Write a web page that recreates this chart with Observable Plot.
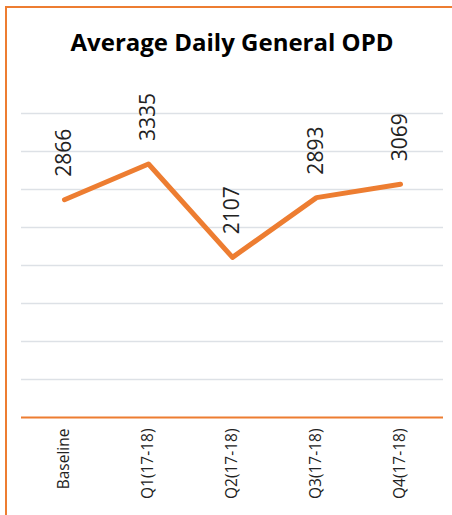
<!DOCTYPE html>
<html>
<head>
<meta charset="utf-8">
<script src="https://cdn.jsdelivr.net/npm/d3@7"></script>
<script src="https://cdn.jsdelivr.net/npm/@observablehq/plot@0.6"></script>
<style>
  html, body { margin: 0; padding: 0; background: #fff; }
  body { width: 452px; height: 515px; overflow: hidden; position: relative; }
  #frame { position: absolute; left: 5px; top: 6px; width: 520px; height: 600px;
           border-left: 2px solid #ED7D31; border-top: 2px solid #ED7D31; pointer-events: none; }
  #title { height: 40px; padding-top: 30px; padding-left: 12px; text-align: center;
           font-family: "Open Sans", sans-serif; font-weight: 700; font-size: 24px; line-height: 24px; color: #000; white-space: nowrap; }
  #chart svg { display: block; }
</style>
</head>
<body>
<div id="frame"></div>
<div id="title">Average Daily General OPD</div>
<div id="chart"></div>
<script>
const categories = ["Baseline", "Q1(17-18)", "Q2(17-18)", "Q3(17-18)", "Q4(17-18)"];
const values = [2866, 3335, 2107, 2893, 3069];
const yTicks = [0, 500, 1000, 1500, 2000, 2500, 3000, 3500, 4000];

const orange = "#ED7D31";
const data = categories.map((c, i) => ({category: c, value: values[i]}));

const chart = Plot.plot({
  width: 452,
  height: 445,
  marginLeft: 21,
  marginRight: 9,
  marginTop: 43,
  marginBottom: 98,
  style: {fontFamily: "Open Sans, sans-serif", fontSize: "15px", color: "#222", background: "transparent"},
  x: {type: "point", domain: categories, padding: 0.5, axis: null},
  y: {domain: [0, 4000], axis: null},
  marks: [
    Plot.gridY(yTicks.filter(d => d > 0), {stroke: "#DDE1E6", strokeOpacity: 1, strokeWidth: 1.5}),
    Plot.ruleY([0], {stroke: orange, strokeWidth: 2}),
    Plot.axisX({tickSize: 0, tickRotate: -90, tickPadding: 11, fontSize: 15.5, fill: "#222", label: null}),
    Plot.lineY(data, {x: "category", y: "value", stroke: orange, strokeWidth: 5, strokeLinecap: "round", strokeLinejoin: "round"}),
    Plot.text(data, {x: "category", y: "value", text: d => String(d.value), rotate: -90, textAnchor: "start", lineAnchor: "middle", dy: -23, fontSize: 21, fill: "#222"})
  ]
});
document.getElementById("chart").appendChild(chart);
</script>
</body>
</html>
